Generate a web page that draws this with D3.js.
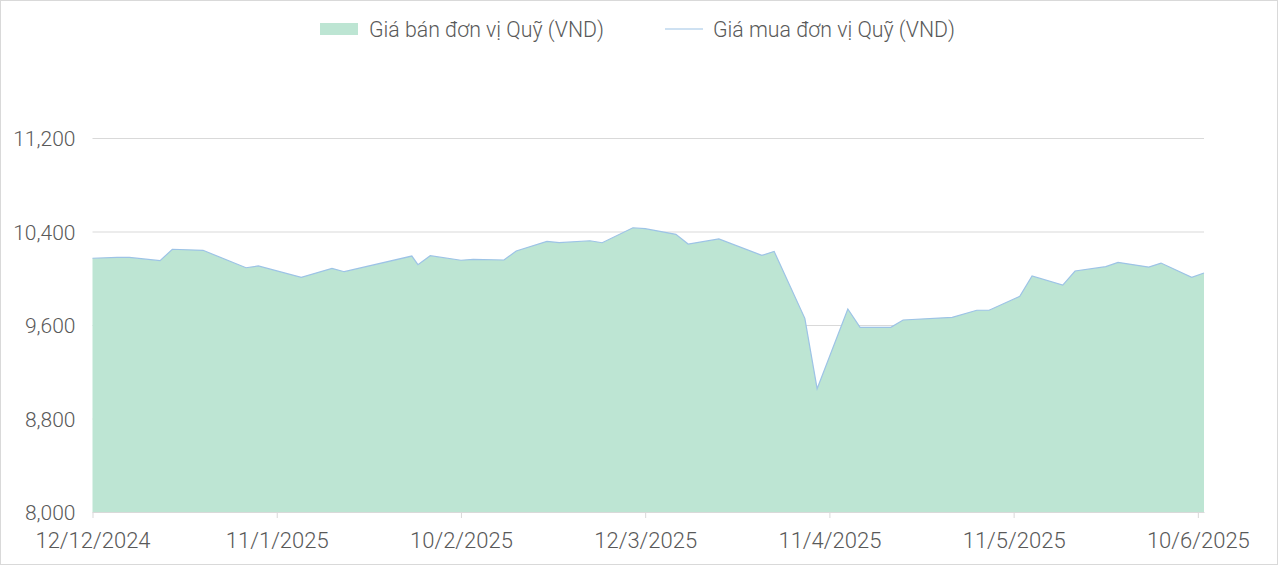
<!DOCTYPE html>
<html>
<head>
<meta charset="utf-8">
<script src="https://cdn.jsdelivr.net/npm/d3@7"></script>
<style>
  html, body { margin: 0; padding: 0; background: #fff; }
  svg text { font-family: Roboto, "Liberation Sans", sans-serif; font-weight: 300; fill: #595959; }
</style>
</head>
<body>
<svg id="chart" width="1280" height="566"></svg>
<script>
// ngay dinh gia (Mon/Wed), doc tu hinh
var dates = [
  "2024-12-12", "2024-12-16", "2024-12-18", "2024-12-23", "2024-12-25", "2024-12-30",
  "2025-01-06", "2025-01-08", "2025-01-15", "2025-01-20", "2025-01-22",
  "2025-02-02", "2025-02-03", "2025-02-05", "2025-02-10", "2025-02-12", "2025-02-17",
  "2025-02-19", "2025-02-24", "2025-02-26", "2025-03-03", "2025-03-05", "2025-03-10",
  "2025-03-12", "2025-03-17", "2025-03-19", "2025-03-24", "2025-03-31", "2025-04-02",
  "2025-04-07", "2025-04-09", "2025-04-14", "2025-04-16", "2025-04-21", "2025-04-23",
  "2025-05-01", "2025-05-05", "2025-05-07", "2025-05-12", "2025-05-14", "2025-05-19",
  "2025-05-21", "2025-05-26", "2025-05-28", "2025-06-02", "2025-06-04", "2025-06-09",
  "2025-06-11"
]

var sellPrice = [
  10171, 10178, 10178, 10150, 10248, 10239,
  10090, 10105, 10008, 10085, 10056,
  10190, 10116, 10193, 10154, 10162, 10156,
  10233, 10316, 10304, 10321, 10304, 10432,
  10424, 10376, 10293, 10336, 10196, 10230,
  9657, 9055, 9737, 9580, 9580, 9643,
  9666, 9726, 9726, 9845, 10019, 9942,
  10062, 10099, 10136, 10096, 10130, 10008,
  10045
]

var buyPrice = [
  10171, 10178, 10178, 10150, 10248, 10239,
  10090, 10105, 10008, 10085, 10056,
  10190, 10116, 10193, 10154, 10162, 10156,
  10233, 10316, 10304, 10321, 10304, 10432,
  10424, 10376, 10293, 10336, 10196, 10230,
  9657, 9055, 9737, 9580, 9580, 9643,
  9666, 9726, 9726, 9845, 10019, 9942,
  10062, 10099, 10136, 10096, 10130, 10008,
  10045
]

var yTicks = [8000, 8800, 9600, 10400, 11200]
var xTickLabels = ["12/12/2024", "11/1/2025", "10/2/2025", "12/3/2025", "11/4/2025", "11/5/2025", "10/6/2025"]
var seriesNames = ["Giá bán đơn vị Quỹ (VND)", "Giá mua đơn vị Quỹ (VND)"]

function draw_chart () {
	var parse = d3.timeParse("%Y-%m-%d"),
	    fmtTick = d3.timeParse("%d/%m/%Y"),
	    data = dates.map((d, i) => ({ date: parse(d), sell: sellPrice[i], buy: buyPrice[i] })),
	    svg = d3.select("#chart"),
	    left = 92.5, right = 1204, top = 138, bottom = 512

	var x_scale = d3.scaleTime()
	                .domain(d3.extent(data, d => d.date))
	                .range([left, right]),
	    y_scale = d3.scaleLinear()
	                .domain([8000, 11200])
	                .range([bottom, top])

	// khung ngoai
	svg.append("rect")
	   .attr("x", 0.5).attr("y", 0.5)
	   .attr("width", 1277).attr("height", 564)
	   .style("fill", "none")
	   .style("stroke", "#d9d9d9")

	// luoi ngang
	svg.append("g")
	   .attr("transform", `translate(${left},0)`)
	   .call(d3.axisLeft(y_scale).tickValues(yTicks).tickSize(-(right - left)).tickFormat(d3.format(",")))
	   .call(g => g.select(".domain").remove())
	   .call(g => g.selectAll(".tick line").style("stroke", "#d9d9d9"))
	   .call(g => g.selectAll(".tick text")
	               .attr("x", -17)
	               .attr("dy", "0.36em")
	               .style("font-size", "21px"))

	// vung gia ban
	svg.append("path")
	   .datum(data)
	   .attr("d", d3.area().x(d => x_scale(d.date)).y0(y_scale(8000)).y1(d => y_scale(d.sell)))
	   .style("fill", "#bde5d3")
	   .style("stroke", "none")

	// duong gia mua
	svg.append("path")
	   .datum(data)
	   .attr("d", d3.line().x(d => x_scale(d.date)).y(d => y_scale(d.buy)))
	   .style("fill", "none")
	   .style("stroke", "#9dc3e6")
	   .style("stroke-width", 1.2)

	// truc x
	svg.append("g")
	   .attr("transform", `translate(0,${bottom})`)
	   .call(d3.axisBottom(x_scale)
	           .tickValues(xTickLabels.map(fmtTick))
	           .tickSize(6)
	           .tickSizeOuter(0)
	           .tickFormat((d, i) => xTickLabels[i]))
	   .call(g => g.select(".domain").style("stroke", "#d9d9d9"))
	   .call(g => g.selectAll(".tick line").style("stroke", "#d9d9d9"))
	   .call(g => g.selectAll(".tick text")
	               .attr("y", 36)
	               .attr("dy", 0)
	               .style("font-size", "22px"))

	// chu thich
	var legend = svg.append("g")
	legend.append("rect")
	      .attr("x", 320).attr("y", 23)
	      .attr("width", 38).attr("height", 12)
	      .style("fill", "#bde5d3")
	legend.append("text")
	      .attr("x", 369).attr("y", 29).attr("dy", "0.36em")
	      .style("font-size", "21.3px")
	      .text(seriesNames[0])
	legend.append("line")
	      .attr("x1", 665).attr("x2", 703)
	      .attr("y1", 29).attr("y2", 29)
	      .style("stroke", "#9dc3e6")
	      .style("stroke-width", 1.2)
	legend.append("text")
	      .attr("x", 713).attr("y", 29).attr("dy", "0.36em")
	      .style("font-size", "21.3px")
	      .text(seriesNames[1])
}

draw_chart()
</script>
</body>
</html>
